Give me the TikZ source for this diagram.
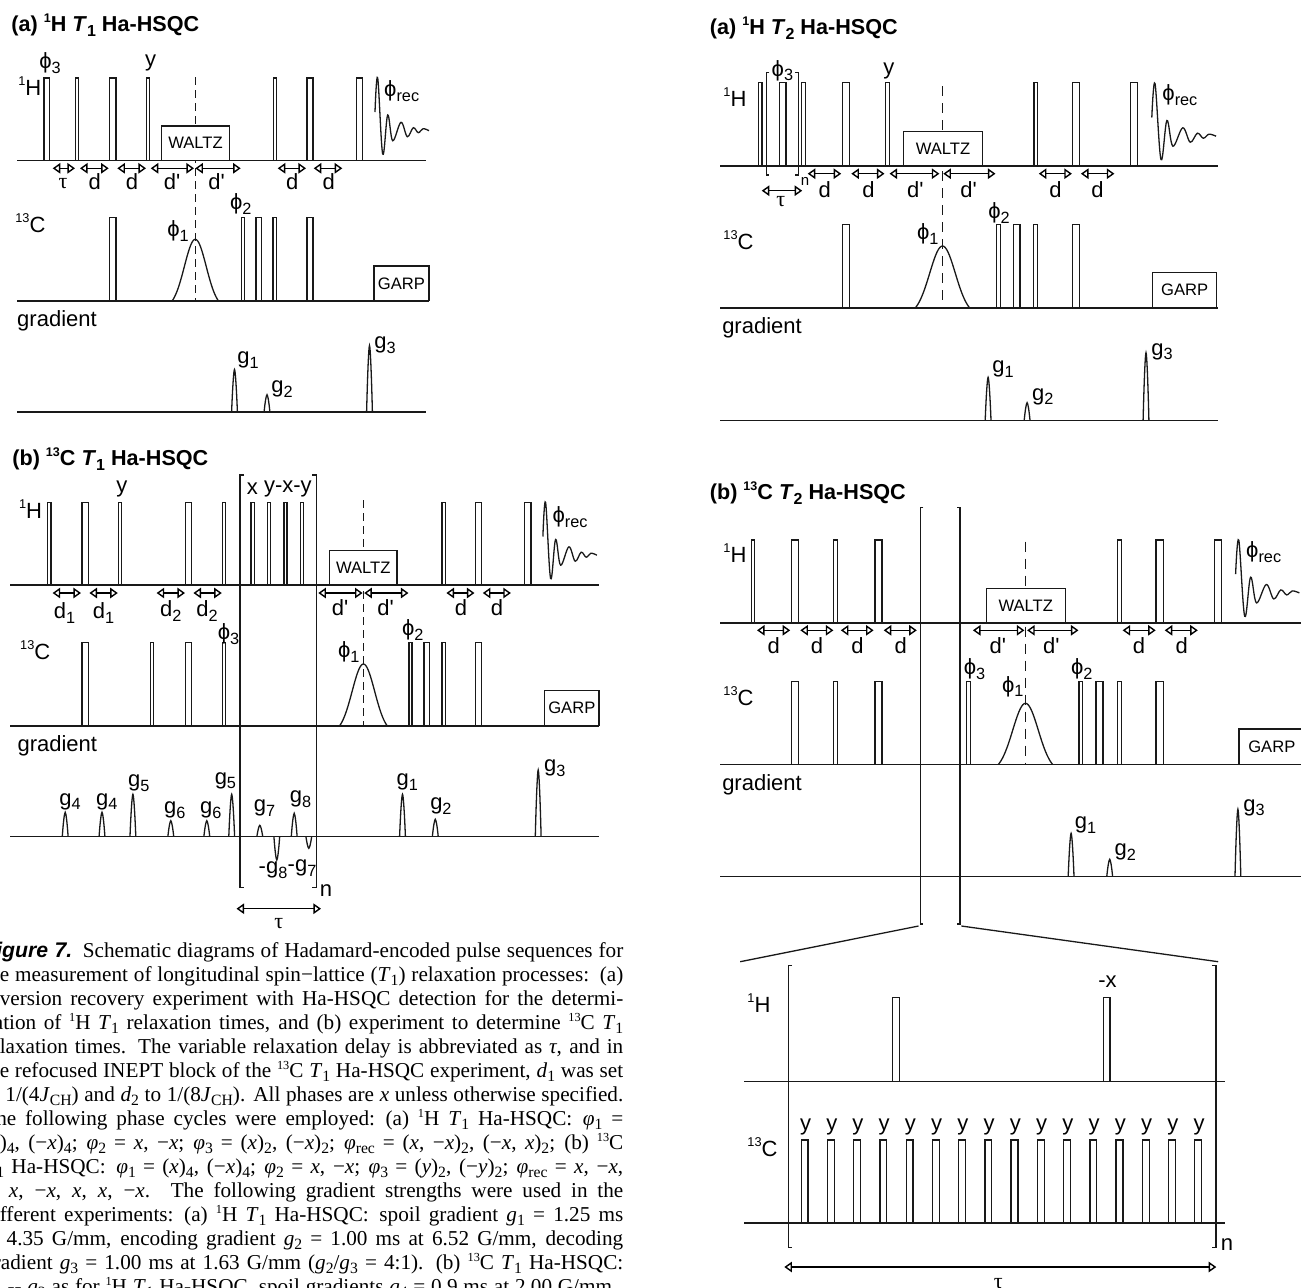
\documentclass[tikz,border=0pt]{standalone}
\usepackage{fontspec}
\setmainfont{Liberation Sans}
\newfontfamily\capfont{Liberation Serif}
\newfontfamily\figfont{Liberation Sans}
\usetikzlibrary{arrows.meta,positioning}
\newcommand{\subs}[1]{\raisebox{-.38ex}{\scalebox{.74}{#1}}}
\newcommand{\sups}[1]{\raisebox{.85ex}{\scalebox{.58}{#1}}}
\newcommand{\phs}[1]{ϕ\subs{#1}}
\newcommand{\tausym}{{\capfont τ}}
\newcommand{\dpr}{d\textquotesingle}
\newcommand{\seqline}[3]{\draw[seqbase] (#1,#3) -- (#2,#3);}
\newcommand{\seqpulses}[3]{%
  \foreach \xa/\xb in {#3} \draw[seqpulse] (\xa,#1) rectangle (\xb,#2);%
}
\newcommand{\seqgrads}[2]{%
  \foreach \gx/\gp in {#2} \draw[seqpulse] ({\gx-2.9},#1) .. controls ({\gx-1.9},{#1+.6*(\gp-#1)}) and ({\gx-.7},\gp) .. (\gx,\gp) .. controls ({\gx+.7},\gp) and ({\gx+1.9},{#1+.6*(\gp-#1)}) .. ({\gx+2.9},#1);%
}
\newcommand{\seqsoft}[4]{%
  \draw[seqpulse] plot[domain=-1:1,samples=41,smooth,variable=\t] ({#1+#2*\t},{#4+(#3-#4)*(exp(-\t*\t/.45)-.108)/.892});%
}
\newcommand{\seqfid}[3]{%
  \draw[seqpulse,shift={(#1,#2)},xscale=#3] plot[smooth,tension=.6] coordinates {(0,-48.5) (2.7,-82.5) (7.7,-6.5) (12.7,-45.5) (17.7,-19.8) (26,-38.2) (32.3,-23.8) (38.3,-32.8) (43.3,-27.8) (48,-31.8) (54,-29.8)};%
}
\newcommand{\seqbracket}[5]{%
  \draw[seqbrk] ({#1+#5},#3) -- (#1,#3) -- (#1,#4) -- ({#1+#5},#4);
  \draw[seqbrk] ({#2-#5},#3) -- (#2,#3) -- (#2,#4) -- ({#2-#5},#4);%
}
\newcommand{\seqarrows}[2]{%
  \foreach \xa/\xb in {#2} \draw[seqarrow] (\xa,#1) -- (\xb,#1);%
}
\newcommand{\seqlabels}[2]{%
  \foreach \lx/\ly/\ltxt [count=\i] in {#2} \node[seqlbl] (#1-\i) at (\lx,\ly) {\ltxt};%
}
\tikzset{
  seqpulse/.style={line width=.65pt,black!90},
  seqbase/.style={line width=.8pt,black!90},
  seqbrk/.style={line width=.65pt,black!90},
  seqarrow/.style={line width=.7pt,{Triangle[open,length=3.8pt,width=5.2pt]}-{Triangle[open,length=3.8pt,width=5.2pt]}},
  seqlbl/.style={inner sep=0pt,font=\fontsize{11}{13}\selectfont},
  seqname/.style={inner sep=0pt,anchor=base west,font=\fontsize{11}{13}\selectfont},
  seqbox/.style={draw=black!90,fill=white,line width=.7pt,inner sep=0pt,font=\fontsize{8.3}{10}\selectfont},
  seqtitle/.style={inner sep=0pt,anchor=west,font=\fontsize{10.8}{13}\selectfont\bfseries},
  seqcap/.style={inner sep=0pt,anchor=base east,font=\capfont\fontsize{10.6}{12}\selectfont},
}
\begin{document}
\begin{tikzpicture}[x=.5pt,y=-.5pt]
  \useasboundingbox (0,0) rectangle (1301,1287);

  % (a) 1H T1
  \node[seqtitle] (ta-title) at (11,25) {(a) \sups{1}H \textit{T}\subs{1} Ha-HSQC};
  \seqline{17}{426}{160.5}
  \seqline{17}{429}{300.7}
  \seqline{17}{426}{412}
  \seqpulses{78}{160.5}{44/49.7,75.3/78.3,109.7/116,146.7/149.3,273.7/276.7,307/313,356.3/362.3}
  \seqpulses{217.7}{300.7}{109.7/116,241.3/244.3,256/261.7,273/276.7,307/313}
  \draw[seqpulse,line width=.5pt,dash pattern=on 4pt off 2.5pt] (195.3,77) -- (195.3,300.7);
  \seqsoft{195.3}{23}{239.3}{300.7}
  \node[seqbox,minimum width=33.8pt,minimum height=17.2pt] (ta-waltz) at (195.5,143.2) {WALTZ};
  \node[seqbox,minimum width=27.5pt,minimum height=17.3pt] (ta-garp) at (401.5,283.3) {GARP};
  \seqarrows{168.3}{52.7/75,80/108.7,117.3/146,150.7/194,195.3/240.7,277.7/306,313.7/342.3}
  \seqlabels{ta}{50/63/{\phs{3}},150.7/63/y,401.7/91/{\phs{rec}},94.7/182/d,132/182/d,172/182/\dpr,216.7/182/\dpr,292.3/182/d,328.7/182/d,63/184/\tausym,240.7/204/{\phs{2}},178/231/{\phs{1}},57/321/gradient,248/360/{g\subs{1}},282/389/{g\subs{2}},385/345/{g\subs{3}}}
  \node[seqname] (ta-h) at (18,95) {\sups{1}H};
  \node[seqname] (ta-c) at (15,232.7) {\sups{13}C};
  \seqfid{375}{160.5}{1}
  \seqgrads{412}{234.5/369.5,267/394.7,369.5/345.5}

  % (b) 13C T1
  \node[seqtitle] (tb-title) at (12,459) {(b) \sups{13}C \textit{T}\subs{1} Ha-HSQC};
  \seqline{10}{599}{585}
  \seqline{10}{599}{725.7}
  \seqline{10}{599}{836.3}
  \seqpulses{502.3}{585}{47.5/51,81.9/88.2,118.2/121.8,185.8/191.8,222.2/225.4,251/254.3,267.3/270.5,283.9/287,300.5/303.7,442/445.2,475.7/481.6,524.7/531}
  \seqpulses{642.7}{725.7}{81.9/88.2,150.7/153.8,185.8/191.8,222.2/225.4,408.9/412,423.9/429.8,442/445.2,475.7/481.6}
  \seqbracket{240}{316.3}{475}{887.7}{4}
  \draw[seqpulse,line width=.5pt,dash pattern=on 4pt off 2.5pt] (363.4,500) -- (363.4,725.7);
  \seqsoft{363.4}{23.7}{664}{725.7}
  \node[seqbox,minimum width=33.8pt,minimum height=17.2pt] (tb-waltz) at (363.2,567.8) {WALTZ};
  \node[seqbox,minimum width=27.3pt,minimum height=17.7pt] (tb-garp) at (571.8,708) {GARP};
  \seqarrows{593}{52.6/81,89.4/117.8,156.6/185,193.4/221.8,318.3/362.6,364.2/408.5,446.4/474.5,482.8/510.9}
  \seqarrows{908.7}{236.5/321}
  \seqlabels{tb}{121.8/489/y,252.3/489/x,287.9/489/y-x-y,570/517/{\phs{rec}},64.5/613/{d\subs{1}},103.6/613/{d\subs{1}},170.8/611/{d\subs{2}},207/611/{d\subs{2}},340/608/\dpr,385.5/608/\dpr,461/608/d,497/608/d,228.5/634/{\phs{3}},348.8/652/{\phs{1}},412.8/630/{\phs{2}},57.3/745.7/gradient,70/801.7/{g\subs{4}},106.8/801.7/{g\subs{4}},138.8/783/{g\subs{5}},174.8/810/{g\subs{6}},210.8/810/{g\subs{6}},225.4/780.7/{g\subs{5}},264.5/808/{g\subs{7}},300.5/799.3/{g\subs{8}},273/870/{-g\subs{8}},302/868/{-g\subs{7}},407.3/782/{g\subs{1}},440.9/806/{g\subs{2}},554.8/768/{g\subs{3}},326/890.7/n,278.8/924/\tausym}
  \node[seqname] (tb-h) at (18.6,518.3) {\sups{1}H};
  \node[seqname] (tb-c) at (19.8,659.3) {\sups{13}C};
  \seqfid{542.9}{585}{1}
  \seqgrads{836.3}{65.2/812.3,102/812.3,132.9/794.3,170.8/820.7,206.8/820.7,231.7/794.3,259.8/825.3,294.2/813.3,276.8/860,308.8/848.3,402.5/794.3,435.3/819.3,538.2/770}

  % caption
  \foreach \capline [count=\i] in {
    {{\figfont\bfseries\itshape Figure 7.}\enspace Schematic diagrams of Hadamard-encoded pulse sequences for},
    {the measurement of longitudinal spin−lattice (\textit{T}\subs{1}) relaxation processes:\enspace (a)},
    {inversion recovery experiment with Ha-HSQC detection for the determi-},
    {nation of \sups{1}H \textit{T}\subs{1} relaxation times, and (b) experiment to determine \sups{13}C \textit{T}\subs{1}},
    {relaxation times. The variable relaxation delay is abbreviated as \textit{τ}, and in},
    {the refocused INEPT block of the \sups{13}C \textit{T}\subs{1} Ha-HSQC experiment, \textit{d}\subs{1} was set},
    {to 1/(4\textit{J}\subs{CH}) and \textit{d}\subs{2} to 1/(8\textit{J}\subs{CH}). All phases are \textit{x} unless otherwise specified.},
    {The following phase cycles were employed:\enspace (a) \sups{1}H \textit{T}\subs{1} Ha-HSQC:\enspace \textit{φ}\subs{1} =},
    {(\textit{x})\subs{4}, (−\textit{x})\subs{4}; \textit{φ}\subs{2} = \textit{x}, −\textit{x}; \textit{φ}\subs{3} = (\textit{x})\subs{2}, (−\textit{x})\subs{2}; \textit{φ}\subs{rec} = (\textit{x}, −\textit{x})\subs{2}, (−\textit{x}, \textit{x})\subs{2}; (b) \sups{13}C},
    {\textit{T}\subs{1} Ha-HSQC:\enspace \textit{φ}\subs{1} = (\textit{x})\subs{4}, (−\textit{x})\subs{4}; \textit{φ}\subs{2} = \textit{x}, −\textit{x}; \textit{φ}\subs{3} = (\textit{y})\subs{2}, (−\textit{y})\subs{2}; \textit{φ}\subs{rec} = \textit{x}, −\textit{x},},
    {\textit{x}, \textit{x}, −\textit{x}, \textit{x}, \textit{x}, −\textit{x}. The following gradient strengths were used in the},
    {different experiments:\enspace (a) \sups{1}H \textit{T}\subs{1} Ha-HSQC:\enspace spoil gradient \textit{g}\subs{1} = 1.25 ms},
    {at 4.35 G/mm, encoding gradient \textit{g}\subs{2} = 1.00 ms at 6.52 G/mm, decoding},
    {gradient \textit{g}\subs{3} = 1.00 ms at 1.63 G/mm (\textit{g}\subs{2}/\textit{g}\subs{3} = 4:1). (b) \sups{13}C \textit{T}\subs{1} Ha-HSQC:},
    {\textit{g}\subs{1} -- \textit{g}\subs{3} as for \sups{1}H \textit{T}\subs{1} Ha-HSQC, spoil gradients \textit{g}\subs{4} = 0.9 ms at 2.00 G/mm,}
  } \node[seqcap] (cap-\i) at (623.7,{933.5+24*\i}) {\makebox[320pt][s]{\capline}};

  % (a) 1H T2
  \node[seqtitle] (sa-title) at (709.5,28) {(a) \sups{1}H \textit{T}\subs{2} Ha-HSQC};
  \seqline{720.4}{1218}{166}
  \seqline{720.4}{1218}{307.7}
  \seqline{720.4}{1218}{420.3}
  \seqpulses{82.7}{166}{758.2/762.1,779.2/785.9,801.8/805.7,842.8/849.8,885.6/889.5,1034.1/1037.6,1072.7/1079.7,1130.4/1137.4}
  \seqpulses{224.3}{307.7}{842.8/849.8,996.3/1000.2,1013.5/1020.1,1033.3/1037.2,1072.7/1079.7}
  \seqbracket{766.4}{798.3}{72.7}{175}{3}
  \draw[seqbase,dash pattern=on 5pt off 3.5pt] (942.5,86) -- (942.5,307.7);
  \seqsoft{942.5}{27}{246}{307.7}
  \node[seqbox,minimum width=39.3pt,minimum height=17.2pt] (sa-waltz) at (943,148.8) {WALTZ};
  \node[seqbox,minimum width=32pt,minimum height=17.6pt] (sa-garp) at (1184.7,290) {GARP};
  \seqarrows{173.7}{807.7/841.2,851.3/884.5,889.5/939.4,943.3/995.5,1038.8/1071.9,1080.9/1114.4}
  \seqarrows{190.7}{761.7/802.2}
  \seqlabels{sa}{782.4/70.7/{\phs{3}},888.8/70.7/y,1179.9/95/{\phs{rec}},824.8/190/d,868.5/190/d,915.3/190/\dpr,968.6/190/\dpr,1055.5/190/d,1097.6/190/d,780.8/201.7/\tausym,999/213.3/{\phs{2}},927.7/234.3/{\phs{1}},762/328.3/gradient,1003/369.3/{g\subs{1}},1042.7/396.7/{g\subs{2}},1162/351.7/{g\subs{3}}}
  \node[seqlbl,font=\fontsize{7.5}{9}\selectfont] (sa-n) at (805,181.5) {n};
  \node[seqname] (sa-h) at (723,106) {\sups{1}H};
  \node[seqname] (sa-c) at (723,249) {\sups{13}C};
  \seqfid{1151.8}{166}{1.19}
  \seqgrads{420.3}{988.1/377.3,1027.1/402.7,1146/352.7}

  % (b) 13C T2
  \node[seqtitle] (sb-title) at (709.5,493) {(b) \sups{13}C \textit{T}\subs{2} Ha-HSQC};
  \seqline{720.4}{1301}{622.7}
  \seqline{720.4}{1301}{764.3}
  \seqline{720.4}{1301}{876.3}
  \seqpulses{540}{622.7}{751.2/754.7,791.3/798.3,833.8/837.3,875.1/882.1,1117.5/1121.4,1156.1/1163.5,1214.2/1221.2}
  \seqpulses{681.3}{764.3}{791.3/798.3,833.8/837.3,875.1/882.1,966.3/970.2,1078.9/1082.8,1096.1/1103.1,1117.5/1121.4,1156.1/1163.5}
  \seqbracket{920.3}{960}{507.7}{924}{3}
  \draw[seqbase,dash pattern=on 5pt off 3.5pt] (1025.5,541.7) -- (1025.5,764.3);
  \seqsoft{1025.5}{27}{703.3}{764.3}
  \node[seqbox,minimum width=39.5pt,minimum height=17.2pt] (sb-waltz) at (1025.7,605.5) {WALTZ};
  \draw[seqpulse] (1301,729) -- (1239.1,729) -- (1239.1,764.3);
  \node[seqlbl,font=\fontsize{8.3}{10}\selectfont] (sb-garp) at (1271.8,746.7) {GARP};
  \seqarrows{630.3}{757/790.2,800.3/833.4,840.8/873.6,883.7/916.8,972.9/1024.4,1027.1/1078.5,1122.6/1155.7,1164.7/1197.8}
  \seqlabels{sb}{1263.7/552.3/{\phs{rec}},773.8/645.7/d,817/645.7/d,857.6/645.7/d,900.8/645.7/d,997.9/645.7/\dpr,1051.3/645.7/\dpr,1139/645.7/d,1181.8/645.7/d,974.5/669/{\phs{3}},1012.7/686.7/{\phs{1}},1081.7/669/{\phs{2}},762/785/gradient,1085.6/825/{g\subs{1}},1125.3/852.3/{g\subs{2}},1253.9/807.7/{g\subs{3}}}
  \node[seqname] (sb-h) at (723,562.7) {\sups{1}H};
  \node[seqname] (sb-c) at (723,705.7) {\sups{13}C};
  \seqfid{1235.6}{622.7}{1.18}
  \seqgrads{876.3}{1071.1/833.3,1109.7/859.3,1237.9/809.3}

  % expansion
  \coordinate (ex-la) at (740.2,961.7);
  \coordinate (ex-lb) at (918.5,926);
  \coordinate (ex-ra) at (961.4,926);
  \coordinate (ex-rb) at (1218.2,961.7);
  \draw[seqbrk] (ex-la) -- (ex-lb);
  \draw[seqbrk] (ex-ra) -- (ex-rb);
  \seqline{744.1}{1225.1}{1081.3}
  \seqline{744.1}{1225.1}{1222.7}
  \seqbracket{788.2}{1215.9}{965.7}{1247.3}{4}
  \seqpulses{997.7}{1081.3}{892.4/899.3,1103.2/1110.1}
  \foreach \k in {0,...,15} {
    \seqpulses{1140}{1222.7}{{801.2+26.24*\k}/{808.1+26.24*\k}}
    \node[seqlbl] (ex-y-\k) at ({805.5+26.24*\k},1126.7) {y};
  }
  \seqarrows{1267}{784.3/1216.3}
  \seqlabels{ex}{1107.4/981.7/-x,1227/1245/n,998.2/1283.3/\tausym}
  \node[seqname] (ex-h) at (747,1012.7) {\sups{1}H};
  \node[seqname] (ex-c) at (747,1156) {\sups{13}C};
\end{tikzpicture}
\end{document}
